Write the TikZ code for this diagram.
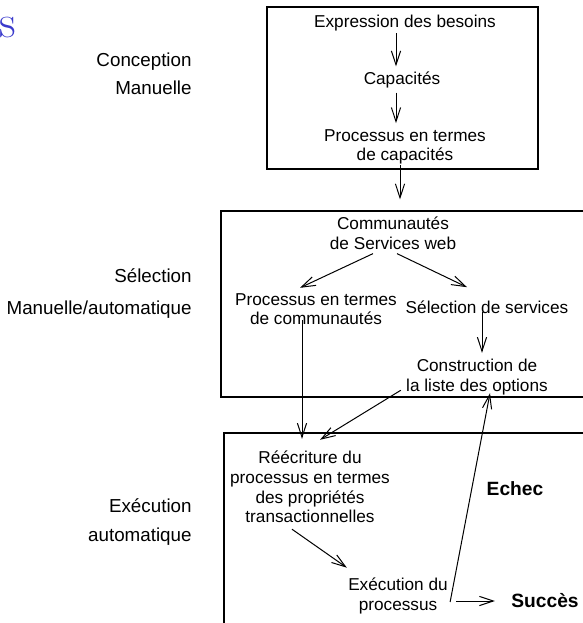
\documentclass[tikz,border=0pt]{standalone}
\usepackage{fontspec}
\usepackage{xcolor}
\usepackage{tikz}
\usetikzlibrary{arrows.meta,calc,positioning}
\newfontfamily\arialfont{Liberation Sans}
\definecolor{titleblue}{RGB}{58,58,204}

\begin{document}
\begin{tikzpicture}[>={Straight Barb[length=7pt,width=4.6pt]}, x=0.5pt, y=-0.5pt,
  txt/.style={inner sep=1pt, align=center, font=\arialfont\fontsize{8.6}{9.8}\selectfont},
  side/.style={inner sep=0pt, anchor=base east, font=\arialfont\fontsize{9.4}{11}\selectfont},
  res/.style={inner sep=1pt, font=\arialfont\bfseries\fontsize{9.6}{11}\selectfont},
  frame/.style={line width=0.6pt},
  flow/.style={->, line width=0.5pt}]
  \clip (0,0) rectangle (583,623);
  \node[inner sep=0pt, anchor=base west, text=titleblue, font=\fontsize{23}{26}\selectfont] (T1) at (-1,37) {s};
  \node[side] (L1) at (192,66) {Conception};
  \node[side] (L2) at (192,94) {Manuelle};
  \node[side] (L3) at (192,282) {Sélection};
  \node[side] (L4) at (192,314) {Manuelle/automatique};
  \node[side] (L5) at (192,512) {Exécution};
  \node[side] (L6) at (192,541) {automatique};
  \draw[frame] (267,7) rectangle (538,169);
  \draw[frame] (221,211) rectangle (600,397);
  \draw[frame] (224,433) rectangle (600,640);
  \node[txt] (A1) at (405,23) {Expression des besoins};
  \node[txt] (A2) at (402,80) {Capacités};
  \node[txt] (A3) at (405,147) {Processus en termes\\de capacités};
  \node[txt] (B1) at (393,233) {Communautés\\de Services web};
  \node[txt] (B2) at (316,309) {Processus en termes\\de communautés};
  \node[txt] (B3) at (487,307) {Sélection de services};
  \node[txt] (B4) at (477,377) {Construction de\\la liste des options};
  \node[txt] (C1) at (310,487) {Réécriture du\\processus en termes\\des propriétés\\transactionnelles};
  \node[txt] (C2) at (398,596) {Exécution du\\processus};
  \node[res] (S1) at (545,601) {Succès};
  \node[res] (E1) at (515,489) {Echec};
  \draw[flow] ($(A1.south)+(-9,0)$) -- ($(A2.north)+(-6,-3)$);
  \draw[flow] ($(A2.south)+(-6,2)$) -- ($(A3.north)+(-9,-4)$);
  \draw[flow] ($(A3.south)+(-5,-2)$) -- ($(B1.north)+(7,-15)$);
  \draw[flow] ($(B1.south)+(-20,2)$) -- ($(B2.north)+(-16,-3)$);
  \draw[flow] ($(B1.south)+(4,2)$) -- ($(B3.north)+(-20,-11)$);
  \draw[flow] ($(B3.south)+(-5,-4)$) -- ($(B4.north)+(5,-4)$);
  \draw[flow] ($(B2.south)+(-14,-7)$) -- ($(C1.north)+(-8,-10)$);
  \draw[flow] ($(B4.south west)+(-3,-7)$) -- ($(C1.north)+(10,-9)$);
  \draw[flow] ($(C2.east)+(0,6)$) -- ($(B4.south)+(13,-4)$);
  \draw[flow] ($(C1.south)+(-18,4)$) -- ($(C2.north west)+(1,-8)$);
  \draw[flow] ($(C2.east)+(6,5)$) -- ($(S1.west)+(-14,0)$);
\end{tikzpicture}
\end{document}
